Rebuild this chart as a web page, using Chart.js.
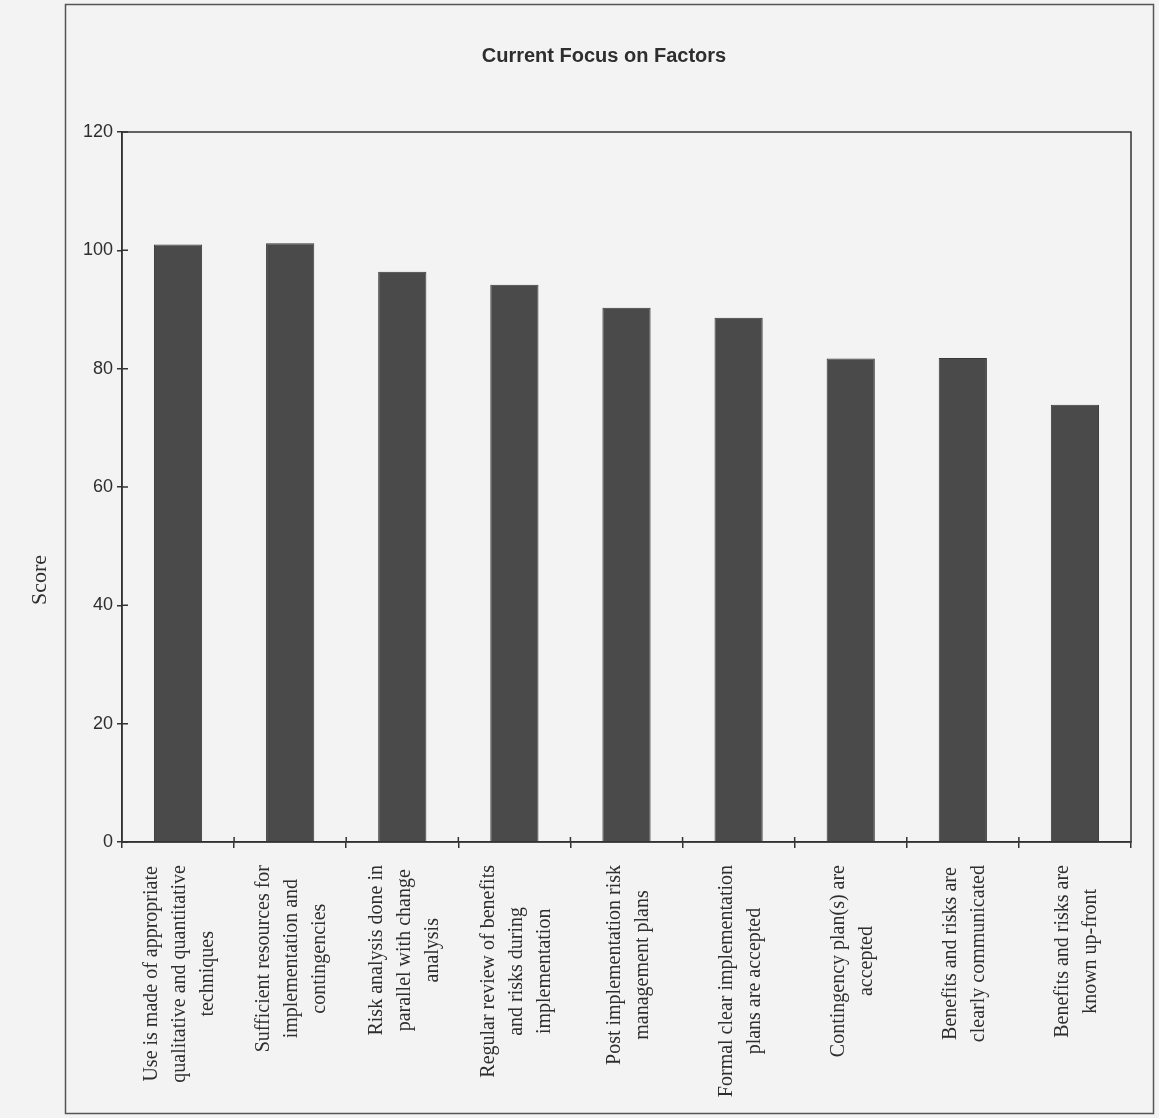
<!DOCTYPE html>
<html><head><meta charset="utf-8">
<script src="https://cdn.jsdelivr.net/npm/chart.js@4/dist/chart.umd.min.js"></script>
<style>html,body{margin:0;padding:0;background:#f3f3f3;} canvas{display:block;}</style>
</head><body>
<canvas id="c" width="1159" height="1118"></canvas>
<script>
const categories = [
  ["Use is made of appropriate", "qualitative and quantitative", "techniques"],
  ["Sufficient resources for", "implementation and", "contingencies"],
  ["Risk analysis done in", "parallel with change", "analysis"],
  ["Regular review of benefits", "and risks during", "implementation"],
  ["Post implementation risk", "management plans"],
  ["Formal clear implementation", "plans are accepted"],
  ["Contingency plan(s) are", "accepted"],
  ["Benefits and risks are", "clearly communicated"],
  ["Benefits and risks are", "known up-front"]
];
const scores = [101.0, 101.2, 96.4, 94.2, 90.3, 88.6, 81.7, 81.8, 73.9];
const yMin = 0, yMax = 120, yStep = 20;
const chartTitle = "Current Focus on Factors";
const yTitle = "Score";

const INK = '#2e2e2e';

const decor = {
  id: 'decor',
  beforeDraw(chart) {
    const ctx = chart.ctx;
    ctx.save();
    ctx.fillStyle = '#f3f3f3';
    ctx.fillRect(0, 0, chart.width, chart.height);
    ctx.strokeStyle = '#555';
    ctx.lineWidth = 1.5;
    ctx.strokeRect(65.5, 4.5, 1088, 1109);
    ctx.restore();
  },
  afterDraw(chart) {
    const ctx = chart.ctx;
    const a = chart.chartArea;
    const xs = chart.scales.x, ys = chart.scales.y;
    ctx.save();
    ctx.strokeStyle = '#333';
    ctx.lineWidth = 1.5;
    ctx.strokeRect(a.left, a.top, a.right - a.left, a.bottom - a.top);
    ctx.beginPath();
    ys.ticks.forEach(t => {
      const py = ys.getPixelForValue(t.value);
      ctx.moveTo(a.left, py); ctx.lineTo(a.left + 6, py);
    });
    for (let i = 0; i < categories.length - 1; i++) {
      const px = (xs.getPixelForValue(i) + xs.getPixelForValue(i + 1)) / 2;
      ctx.moveTo(px, a.bottom); ctx.lineTo(px, a.bottom - 5);
    }
    ctx.stroke();
    ctx.fillStyle = INK;
    ctx.font = '20px "Liberation Serif", "Times New Roman", serif';
    ctx.textAlign = 'center';
    ctx.textBaseline = 'middle';
    categories.forEach((lines, i) => {
      const x = xs.getPixelForValue(i) + 2;
      let W = 0;
      lines.forEach(l => { W = Math.max(W, ctx.measureText(l).width); });
      ctx.save();
      ctx.translate(x, a.bottom + 23);
      ctx.rotate(-Math.PI / 2);
      const n = lines.length;
      lines.forEach((l, j) => {
        ctx.fillText(l, -W / 2, (j - (n - 1) / 2) * 28);
      });
      ctx.restore();
    });
    ctx.save();
    ctx.font = '22px "Liberation Serif", "Times New Roman", serif';
    ctx.translate(a.left - 82, a.bottom - 262);
    ctx.rotate(-Math.PI / 2);
    ctx.fillText(yTitle, 0, 0);
    ctx.restore();
    ctx.restore();
  }
};

new Chart(document.getElementById('c'), {
  type: 'bar',
  data: {
    labels: categories,
    datasets: [{
      data: scores,
      backgroundColor: '#4a4a4a',
      borderColor: '#383838',
      borderWidth: 1,
      barPercentage: 0.86,
      categoryPercentage: 0.5
    }]
  },
  options: {
    responsive: false,
    devicePixelRatio: 1,
    animation: false,
    layout: { padding: { left: 77, right: 28, top: 0, bottom: 0 } },
    plugins: {
      legend: { display: false },
      tooltip: { enabled: false },
      title: {
        display: true,
        text: chartTitle,
        color: INK,
        font: { family: '"Liberation Sans", Arial, sans-serif', size: 20, weight: 'bold', lineHeight: 1.2 },
        padding: { top: 44, bottom: 64 }
      }
    },
    scales: {
      x: {
        ticks: { display: false },
        grid: { offset: true, drawOnChartArea: false, drawTicks: true, tickLength: 6, color: '#333', lineWidth: 1.5 },
        border: { display: true, color: '#333', width: 1.5 },
        afterFit(scale) { scale.height = 276; }
      },
      y: {
        min: yMin, max: yMax,
        ticks: {
          stepSize: yStep,
          color: INK,
          padding: 4,
          font: { family: '"Liberation Sans", Arial, sans-serif', size: 18 }
        },
        grid: { drawOnChartArea: false, drawTicks: true, tickLength: 5, color: '#333', lineWidth: 1.5 },
        border: { display: true, color: '#333', width: 1.5 },
        afterFit(scale) { scale.width = 45; }
      }
    }
  },
  plugins: [decor]
});
</script>
</body></html>
